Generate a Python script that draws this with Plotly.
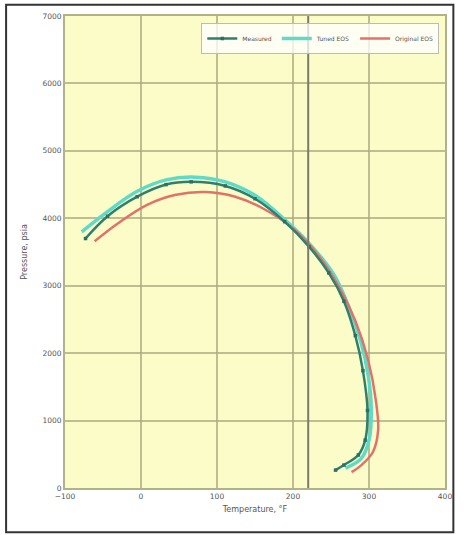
import plotly.graph_objects as go

# Phase envelope: temperature (°F) vs pressure (psia)
meas_T = [-73, -44, -5, 33, 66, 111, 150, 189, 221, 247, 267, 282, 292, 298, 295, 286, 267, 256]
meas_P = [3700, 4030, 4320, 4500, 4540, 4480, 4290, 3950, 3580, 3190, 2770, 2260, 1740, 1150, 710, 490, 340, 265]

tuned_T = [-78, -44, -5, 33, 72, 111, 150, 189, 225, 254, 273, 289, 299, 303, 300, 290, 269]
tuned_P = [3800, 4100, 4400, 4570, 4610, 4540, 4340, 3980, 3580, 3160, 2700, 2180, 1670, 1150, 710, 440, 295]

orig_T = [-61, -31, 8, 46, 85, 124, 163, 202, 234, 260, 282, 299, 309, 312, 305, 290, 277]
orig_P = [3660, 3920, 4200, 4350, 4390, 4320, 4130, 3830, 3440, 2990, 2480, 1890, 1300, 855, 530, 340, 235]

res_temp = 220
x_ticks = [-100, 0, 100, 200, 300, 400]
y_ticks = [0, 1000, 2000, 3000, 4000, 5000, 6000, 7000]

fig = go.Figure()
fig.add_trace(go.Scatter(x=tuned_T, y=tuned_P, mode="lines", name="Tuned EOS",
                         line=dict(color="#5FD9C8", width=3.5, shape="spline"), legendrank=2))
fig.add_trace(go.Scatter(x=orig_T, y=orig_P, mode="lines", name="Original EOS",
                         line=dict(color="#E2716A", width=2.5, shape="spline"), legendrank=3))
fig.add_trace(go.Scatter(x=meas_T, y=meas_P, mode="lines+markers", name="Measured",
                         line=dict(color="#2E7F6E", width=2.5, shape="spline"),
                         marker=dict(symbol="square", size=3.5, color="#2E6F62"), legendrank=1))

# reservoir temperature marker
fig.add_shape(type="line", xref="x", yref="paper", x0=res_temp, x1=res_temp, y0=0, y1=1,
              line=dict(color="#7A7A6E", width=2))
# outer frame
fig.add_shape(type="rect", xref="paper", yref="paper", x0=-0.155, x1=1.022, y0=-0.094, y1=1.024,
              line=dict(color="#333333", width=2), fillcolor="rgba(0,0,0,0)", layer="above")

axis_common = dict(showgrid=True, gridcolor="rgba(170,170,125,0.75)", gridwidth=2,
                   zeroline=False, showline=True, linecolor="rgba(170,170,125,0.9)", linewidth=2,
                   ticks="", tickfont=dict(family="DejaVu Sans", size=7.5, color="#555555"),
                   mirror=True)

fig.update_layout(
    width=464, height=535,
    margin=dict(l=65, r=12, t=12, b=47),
    paper_bgcolor="white",
    plot_bgcolor="#FCFCC9",
    font=dict(family="DejaVu Sans", size=7, color="#555555"),
    legend=dict(orientation="h", x=0.985, y=0.985, xanchor="right", yanchor="top",
                bgcolor="rgba(255,255,255,0.75)", bordercolor="#BBBBBB", borderwidth=1,
                font=dict(size=6, color="#555555"), itemwidth=30, traceorder="normal"),
    showlegend=True,
)
fig.update_xaxes(range=[-100, 400], tickvals=x_ticks,
                 title=dict(text="Temperature, °F", font=dict(size=8, color="#555555"), standoff=6),
                 **axis_common)
fig.update_yaxes(range=[0, 7000], tickvals=y_ticks,
                 title=dict(text="Pressure, psia", font=dict(size=8, color="#555555"), standoff=14),
                 **axis_common)

fig.write_html("out.html")
